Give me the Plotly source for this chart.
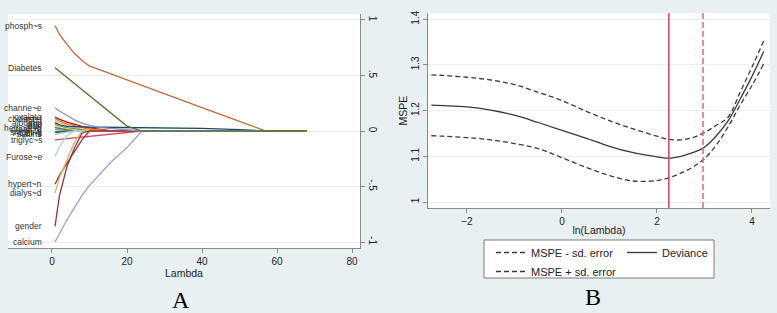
import plotly.graph_objects as go

# ---------------- Panel A data: lasso coefficient paths ----------------
lambda_grid = [0.8, 2, 4, 6, 8, 10, 13, 16, 20, 24, 30, 40, 50, 57, 68]

coef_names = [
    "oxalate", "cholest~l", "PTH", "albumin", "age", "BMI", "hemogl~n",
    "creati~e", "smoking", "ACEI~s", "statins", "triglyc~s",
    "Furose~e", "hypert~n", "dialys~d", "gender", "calcium",
    "channe~e", "phosph~s", "Diabetes",
]
coef_paths = [
    [0.125, 0.105, 0.08, 0.06, 0.042, 0.028, 0.012, 0, 0, 0, 0, 0, 0, 0, 0],
    [0.11, 0.09, 0.065, 0.045, 0.03, 0.018, 0.006, 0, 0, 0, 0, 0, 0, 0, 0],
    [0.095, 0.075, 0.05, 0.03, 0.015, 0.005, 0, 0, 0, 0, 0, 0, 0, 0, 0],
    [0.075, 0.055, 0.042, 0.038, 0.036, 0.035, 0.034, 0.033, 0.032, 0.031, 0.029, 0.024, 0.012, 0, 0],
    [0.06, 0.045, 0.03, 0.018, 0.008, 0, 0, 0, 0, 0, 0, 0, 0, 0, 0],
    [0.045, 0.03, 0.018, 0.008, 0, 0, 0, 0, 0, 0, 0, 0, 0, 0, 0],
    [0.03, 0.02, 0.01, 0, 0, 0, 0, 0, 0, 0, 0, 0, 0, 0, 0],
    [0.015, 0.01, 0.004, 0, 0, 0, 0, 0, 0, 0, 0, 0, 0, 0, 0],
    [-0.005, -0.003, 0, 0, 0, 0, 0, 0, 0, 0, 0, 0, 0, 0, 0],
    [-0.015, -0.01, -0.004, 0, 0, 0, 0, 0, 0, 0, 0, 0, 0, 0, 0],
    [-0.03, -0.02, -0.01, 0, 0, 0, 0, 0, 0, 0, 0, 0, 0, 0, 0],
    [-0.08, -0.076, -0.07, -0.064, -0.058, -0.051, -0.041, -0.031, -0.016, 0, 0, 0, 0, 0, 0],
    [-0.23, -0.14, -0.04, 0, 0, 0, 0, 0, 0, 0, 0, 0, 0, 0, 0],
    [-0.48, -0.40, -0.29, -0.18, -0.08, 0, 0, 0, 0, 0, 0, 0, 0, 0, 0],
    [-0.56, -0.42, -0.26, -0.10, 0, 0, 0, 0, 0, 0, 0, 0, 0, 0, 0],
    [-0.86, -0.58, -0.32, -0.15, -0.02, 0, 0, 0, 0, 0, 0, 0, 0, 0, 0],
    [-1.0, -0.92, -0.80, -0.69, -0.58, -0.49, -0.38, -0.27, -0.15, 0, 0, 0, 0, 0, 0],
    [0.21, 0.18, 0.14, 0.10, 0.07, 0.05, 0.03, 0.02, 0.01, 0, 0, 0, 0, 0, 0],
    [0.95, 0.87, 0.78, 0.70, 0.635, 0.585, 0.548, 0.51, 0.46, 0.41, 0.335, 0.21, 0.087, 0, 0],
    [0.57, 0.537, 0.482, 0.428, 0.373, 0.318, 0.236, 0.153, 0.044, 0, 0, 0, 0, 0, 0],
]
coef_colors = [
    "#c10534", "#e37e00", "#cac27e", "#1a476f", "#6e8e84", "#f0c419", "#2e8b57",
    "#7b92a8", "#a0522d", "#2d6d66", "#9ecae1", "#d1495b",
    "#a8d4e6", "#a02c3c", "#cdb86a", "#90353b", "#9c9ae0",
    "#938dd2", "#c0693a", "#55752f",
]
a_xticks = [0, 20, 40, 60, 80]
a_yticks = [-1, -0.5, 0, 0.5, 1]
a_yticktext = ["-1", "-.5", "0", ".5", "1"]

# ---------------- Panel B data: cross-validation MSPE ----------------
ln_lambda = [-2.75, -2.5, -2, -1.5, -1, -0.5, 0, 0.5, 1, 1.5, 2, 2.25, 2.5,
             2.75, 3, 3.25, 3.5, 3.75, 4, 4.25]
mspe = [1.212, 1.211, 1.208, 1.201, 1.190, 1.174, 1.157, 1.140, 1.122, 1.108,
        1.099, 1.096, 1.100, 1.108, 1.120, 1.145, 1.178, 1.225, 1.275, 1.330]
mspe_plus = [1.278, 1.277, 1.273, 1.267, 1.257, 1.240, 1.222, 1.199, 1.178, 1.160,
             1.144, 1.137, 1.136, 1.141, 1.152, 1.168, 1.186, 1.240, 1.295, 1.353]
mspe_minus = [1.145, 1.144, 1.141, 1.136, 1.128, 1.117, 1.097, 1.076, 1.058, 1.046,
              1.047, 1.053, 1.063, 1.076, 1.095, 1.125, 1.165, 1.212, 1.255, 1.303]
ln_lambda_min = 2.25
ln_lambda_1se = 2.97
b_xticks = [-2, 0, 2, 4]
b_yticks = [1, 1.1, 1.2, 1.3, 1.4]
b_yticktext = ["1", "1.1", "1.2", "1.3", "1.4"]

# ---------------- figure ----------------
W, H = 777, 313
BG = "#e9f0f2"
GRID = "#e6eef1"
AXC = "#8a8a8a"
FONT = "Liberation Sans, Arial, sans-serif"

fig = go.Figure()

for name, path, col in zip(coef_names, coef_paths, coef_colors):
    fig.add_trace(go.Scatter(
        x=lambda_grid, y=path, mode="lines", name=name,
        line=dict(color=col, width=1.3), showlegend=False,
        xaxis="x", yaxis="y", hoverinfo="skip"))
    fig.add_annotation(
        x=-2.1, y=path[0], xref="x", yref="y", text=name, showarrow=False,
        xanchor="right", yanchor="middle",
        font=dict(family=FONT, size=8.5, color="#333333"))

dash_b = "5px,3px"
fig.add_trace(go.Scatter(
    x=ln_lambda, y=mspe_minus, mode="lines", name="MSPE - sd. error",
    line=dict(color="#3a3a3a", width=1.3, dash=dash_b, shape="spline"),
    xaxis="x2", yaxis="y2", legend="legend"))
fig.add_trace(go.Scatter(
    x=ln_lambda, y=mspe_plus, mode="lines", name="MSPE + sd. error",
    line=dict(color="#3a3a3a", width=1.3, dash=dash_b, shape="spline"),
    xaxis="x2", yaxis="y2", legend="legend"))
fig.add_trace(go.Scatter(
    x=ln_lambda, y=mspe, mode="lines", name="Deviance",
    line=dict(color="#3a3a3a", width=1.3, shape="spline"),
    xaxis="x2", yaxis="y2", legend="legend2"))

fig.add_shape(type="line", xref="x2", yref="y2 domain", x0=ln_lambda_min,
              x1=ln_lambda_min, y0=0, y1=1,
              line=dict(color="#cf3f5e", width=1.5))
fig.add_shape(type="line", xref="x2", yref="y2 domain", x0=ln_lambda_1se,
              x1=ln_lambda_1se, y0=0, y1=1,
              line=dict(color="#e0708c", width=1.6, dash="6px,3px"))

# legend frame
fig.add_shape(type="rect", xref="paper", yref="paper",
              x0=484 / W, x1=714 / W, y0=1 - 278 / H, y1=1 - 240 / H,
              line=dict(color="#7a7a7a", width=1), fillcolor="white", layer="below")

axis_common = dict(showline=True, linecolor=AXC, linewidth=1, ticks="outside",
                   ticklen=4, tickcolor=AXC, zeroline=False, automargin=False,
                   tickfont=dict(family=FONT, size=10, color="#222222"))

fig.update_layout(
    width=W, height=H, margin=dict(l=0, r=0, t=0, b=0, autoexpand=False),
    paper_bgcolor=BG, plot_bgcolor="white",
    font=dict(family=FONT, size=10, color="#222222"),
    xaxis=dict(domain=[8 / W, 360 / W], anchor="y", range=[-11.73, 82.13],
               tickvals=a_xticks, showgrid=False,
               title=dict(text="Lambda", standoff=0,
                          font=dict(family=FONT, size=10.5)),
               **axis_common),
    yaxis=dict(domain=[1 - 248 / H, 1 - 14 / H], anchor="x", side="right",
               range=[-1.054, 1.054], tickvals=a_yticks, ticktext=a_yticktext,
               tickangle=90, showgrid=True, gridcolor=GRID, gridwidth=1,
               **axis_common),
    xaxis2=dict(domain=[428 / W, 770 / W], anchor="y2", range=[-2.82, 4.38],
                tickvals=b_xticks, showgrid=False,
                title=dict(text="ln(Lambda)", standoff=0,
                           font=dict(family=FONT, size=10.5)),
                **axis_common),
    yaxis2=dict(domain=[1 - 208 / H, 1 - 13 / H], anchor="x2",
                range=[0.9869, 1.4136], tickvals=b_yticks, ticktext=b_yticktext,
                tickangle=-90, showgrid=True, gridcolor=GRID, gridwidth=1,
                title=dict(text="MSPE", standoff=0,
                           font=dict(family=FONT, size=10.5)),
                **axis_common),
    legend=dict(x=491 / W, y=1 - 238 / H, xanchor="left", yanchor="top",
                bgcolor="rgba(0,0,0,0)", borderwidth=0, tracegroupgap=0,
                font=dict(family=FONT, size=11, color="#222222")),
    legend2=dict(x=622 / W, y=1 - 238 / H, xanchor="left", yanchor="top",
                 bgcolor="rgba(0,0,0,0)", borderwidth=0,
                 font=dict(family=FONT, size=11, color="#222222")),
    showlegend=True,
)

fig.add_annotation(x=181 / W, y=1 - 300 / H, xref="paper", yref="paper",
                   text="A", showarrow=False, xanchor="center", yanchor="middle",
                   font=dict(family="Liberation Serif, Times New Roman, serif",
                             size=24, color="black"))
fig.add_annotation(x=593 / W, y=1 - 297 / H, xref="paper", yref="paper",
                   text="B", showarrow=False, xanchor="center", yanchor="middle",
                   font=dict(family="Liberation Serif, Times New Roman, serif",
                             size=24, color="black"))

page_fix = ("document.body.style.margin='0';"
            "document.body.style.padding='0';"
            "document.body.style.overflow='hidden';"
            "document.body.style.background='" + BG + "';")

fig.write_html("out.html", post_script=page_fix,
               config={"displayModeBar": False})
